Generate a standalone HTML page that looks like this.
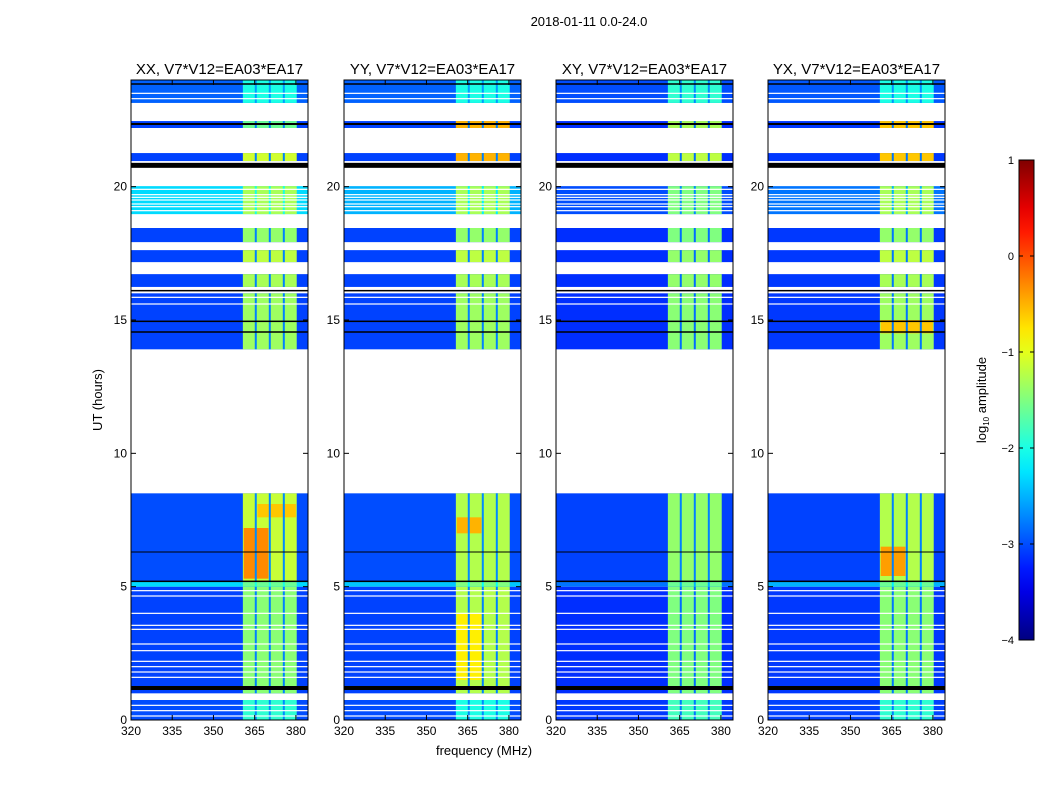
<!DOCTYPE html>
<html><head><meta charset="utf-8">
<style>
body{margin:0;background:#fff;}
svg text{font-family:"Liberation Sans",sans-serif;fill:#000;}
</style></head>
<body>
<svg id="chart" width="1050" height="800" xmlns="http://www.w3.org/2000/svg">
<rect width="1050" height="800" fill="#fff"/>
<text x="589" y="26" font-size="13" text-anchor="middle">2018-01-11 0.0-24.0</text>
<text x="484" y="755" font-size="13" text-anchor="middle">frequency (MHz)</text>
<text transform="translate(102,400) rotate(-90)" font-size="13" text-anchor="middle">UT (hours)</text>
<g id="panels"></g>
<g id="cbar"></g>
</svg>
<script>
const panelNames=["XX","YY","XY","YX"];
const panelLefts=[131,344,556,768];
const segments=[[0,0.75],[1.0,5.0],[5.0,5.2],[5.2,8.5],[13.9,16.0],[16.24,16.72],[17.17,17.62],[17.92,18.45],[18.97,20.02],[20.96,21.26],[22.2,22.46],[23.14,24]];
const bgVals=[
 [-3.0,-3.05,-2.3,-3.0,-3.05,-3.05,-3.05,-3.05,-2.3,-3.05,-3.05,-2.9],
 [-3.0,-3.05,-2.4,-3.0,-3.05,-3.05,-3.05,-3.05,-2.5,-3.05,-3.05,-2.9],
 [-3.1,-3.15,-2.8,-3.05,-3.15,-3.15,-3.15,-3.15,-3.0,-3.15,-3.15,-3.0],
 [-3.05,-3.1,-2.5,-3.05,-3.1,-3.1,-3.1,-3.1,-2.8,-3.1,-3.1,-2.95]];
const bandVals=[
 [-1.9,-1.45,-1.6,-1.15,-1.35,-1.3,-1.2,-1.4,-1.3,-1.1,-1.6,-2.0],
 [-2.0,-1.25,-1.5,-1.25,-1.35,-1.3,-1.2,-1.4,-1.3,-0.5,-0.5,-2.0],
 [-1.8,-1.5,-1.6,-1.4,-1.45,-1.4,-1.4,-1.5,-1.5,-1.2,-1.3,-1.9],
 [-1.9,-1.45,-1.6,-1.25,-1.35,-1.3,-1.2,-1.4,-1.3,-0.6,-0.6,-2.0]];
const bandRange=[360.7,380.3];
const bandGaps=[365.4,370.5,375.6];
const hotspots=[[0,361,370,5.3,7.2,-0.3],[0,366,380,7.6,8.1,-0.6],[1,361,370,1.5,4.0,-0.8],[1,361,370,7.0,7.6,-0.5],[3,361,370,5.4,6.5,-0.4],[3,361,380,14.5,15.0,-0.6]];
const whiteLines=[0.15,0.35,0.55,1.6,1.8,2.0,2.2,2.6,2.85,3.4,3.55,4.0,4.65,4.85,15.6,15.85,19.1,19.25,19.35,19.5,19.6,19.7,19.9,23.3,23.5];
const blackLines=[[1.2,4],[5.2,1.5],[6.3,1],[14.55,1.5],[14.95,1.5],[20.8,5],[22.35,2],[23.85,1.5],[16.1,1.5]];
const yTicks=[0,5,10,15,20];
const xTicks=[320,335,350,365,380];
const cbTicks=[1,0,-1,-2,-3,-4];

const PW=177,TOP=80,BOT=720,FMIN=320,FMAX=384.4,HMAX=24,VMIN=-4,VMAX=1;
const NS="http://www.w3.org/2000/svg";
function Y(h){return BOT-h*(BOT-TOP)/HMAX;}
function X(l,f){return l+(f-FMIN)*PW/(FMAX-FMIN);}
function jet(v){let x=(v-VMIN)/(VMAX-VMIN);x=Math.max(0,Math.min(1,x));
 const c=t=>Math.round(255*Math.max(0,Math.min(1,1.5-Math.abs(4*x-t))));
 return `rgb(${c(3)},${c(2)},${c(1)})`;}
function el(tag,attrs,parent){const e=document.createElementNS(NS,tag);for(const k in attrs)e.setAttribute(k,attrs[k]);parent.appendChild(e);return e;}
const root=document.getElementById('panels');
panelNames.forEach((nm,p)=>{
 const L=panelLefts[p];
 const g=el('g',{},root);
 
 
 segments.forEach((s,i)=>{
  const y0=Y(s[1]),y1=Y(s[0]);
  const r=el('rect',{x:L,y:y0,width:PW,height:y1-y0,fill:jet(bgVals[p][i])},g);
  
  
  const b=el('rect',{x:X(L,bandRange[0]),y:y0,width:X(L,bandRange[1])-X(L,bandRange[0]),height:y1-y0,fill:jet(bandVals[p][i])},g);
  
  
 });
 hotspots.filter(h=>h[0]===p).forEach(h=>{
  const r=el('rect',{x:X(L,h[1]),y:Y(h[4]),width:X(L,h[2])-X(L,h[1]),height:Y(h[3])-Y(h[4]),fill:jet(h[5])},g);
  
  
 });
 segments.forEach((s,i)=>{
  bandGaps.forEach(f=>{
   const r=el('rect',{x:X(L,f)-1,y:Y(s[1]),width:2,height:Y(s[0])-Y(s[1]),fill:jet(bgVals[p][i]+0.3)},g);
   
   
  });
 });
 whiteLines.forEach(h=>{
  const r=el('rect',{x:L,y:Y(h)-0.6,width:PW,height:1.2,fill:'#fff'},g);
  
  
 });
 blackLines.forEach(b=>{
  const r=el('rect',{x:L,y:Y(b[0])-b[1]/2,width:PW,height:b[1],fill:'#000'},g);
  
  
 });
 const fr=el('rect',{x:L,y:TOP,width:PW,height:BOT-TOP,fill:'none',stroke:'#000','stroke-width':1},g);
 
 
 const t=el('text',{x:L+PW/2,y:TOP-6,'font-size':15,'text-anchor':'middle'},g);
 t.textContent=nm+', V7*V12=EA03*EA17';
 
 
 yTicks.forEach(v=>{
  const y=Y(v);
  el('line',{x1:L,x2:L+5,y1:y,y2:y,stroke:'#000'},g);
  el('line',{x1:L+PW-5,x2:L+PW,y1:y,y2:y,stroke:'#000'},g);
  const tx=el('text',{x:L-4,y:y+4,'font-size':12,'text-anchor':'end'},g);
  tx.textContent=v;
  
  
 });
 xTicks.forEach(v=>{
  const x=X(L,v);
  el('line',{x1:x,x2:x,y1:BOT,y2:BOT-5,stroke:'#000'},g);
  el('line',{x1:x,x2:x,y1:TOP,y2:TOP+5,stroke:'#000'},g);
  const tx=el('text',{x:x,y:BOT+15,'font-size':12,'text-anchor':'middle'},g);
  tx.textContent=v;
  
  
 });
});
const cb=document.getElementById('cbar');


const CX=1019,CW=15,CT=160,CB=640;
const CY=v=>CB-(v-VMIN)*(CB-CT)/(VMAX-VMIN);
const defs=el('defs',{},cb);
const lg=el('linearGradient',{id:'jetg',x1:0,y1:1,x2:0,y2:0},defs);
for(let i=0;i<=20;i++){el('stop',{offset:i/20,'stop-color':jet(VMIN+i/20*(VMAX-VMIN))},lg);}
el('rect',{x:CX,y:CT,width:CW,height:CB-CT,fill:'url(#jetg)',stroke:'#000'},cb);
cbTicks.forEach(v=>{
 const y=CY(v);
 el('line',{x1:CX,x2:CX+4,y1:y,y2:y,stroke:'#000'},cb);
 el('line',{x1:CX+CW-4,x2:CX+CW,y1:y,y2:y,stroke:'#000'},cb);
 const tx=el('text',{x:CX-5,y:y+4,'font-size':11,'text-anchor':'end'},cb);
 tx.textContent=v<0?'\u2212'+(-v):v;
 
 
});
const cl=el('text',{transform:'translate(986,400) rotate(-90)','font-size':13,'text-anchor':'middle'},cb);
cl.innerHTML='log<tspan font-size="8" dy="3">10</tspan><tspan dy="-3"> amplitude</tspan>';


</script>
</body></html>
